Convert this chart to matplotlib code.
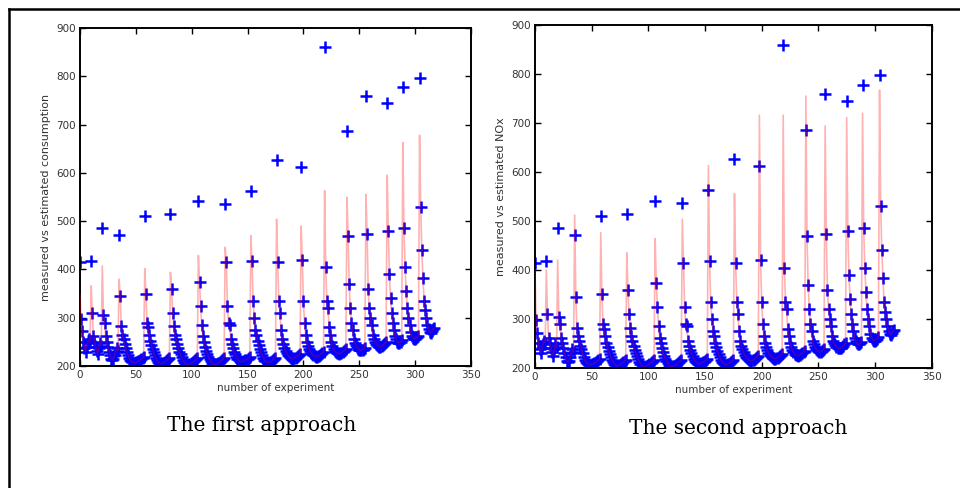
import matplotlib
matplotlib.use("Agg")
import matplotlib.pyplot as plt
from matplotlib.lines import Line2D
import numpy as np

# ---- measured values, one list per experiment group (shared by both panels) ----
g00 = [415, 297, 272, 250, 238, 230, 240, 248, 255, 252]
g01 = [418, 310, 262, 250, 240, 232, 225, 238, 248, 242]
g02 = [485, 305, 290, 262, 250, 240, 230, 222, 215, 212, 215, 222, 230, 238, 232]
g03 = [472, 345, 282, 265, 255, 245, 238, 230, 222, 216, 212, 210, 208, 207, 207,
       208, 209, 210, 210, 212, 214, 216, 218]
g04 = [510, 350, 290, 280, 265, 252, 243, 235, 228, 222, 216, 212, 208, 206, 205,
       205, 206, 207, 208, 210, 212, 214, 216]
g05 = [514, 360, 310, 282, 265, 255, 245, 237, 230, 224, 218, 213, 209, 206, 204,
       203, 203, 204, 205, 206, 208, 210, 212, 214, 216]
g06 = [541, 373, 325, 285, 262, 250, 240, 232, 225, 219, 214, 210, 206, 204, 203,
       203, 204, 205, 206, 208, 210, 212, 214, 216]
g07 = [536, 415, 325, 290, 285, 255, 245, 237, 230, 224, 219, 215, 212, 210, 209,
       209, 210, 211, 212, 213, 214, 216, 218]
g08 = [563, 418, 335, 300, 275, 265, 252, 243, 235, 228, 222, 217, 213, 210, 208,
       207, 207, 208, 209, 211, 213, 215, 217]
g09 = [627, 415, 335, 310, 275, 255, 245, 238, 232, 227, 223, 220, 218, 216, 215,
       215, 216, 217, 219, 221, 223, 225]
g10 = [613, 420, 335, 290, 265, 250, 242, 236, 231, 227, 224, 222, 220, 219, 219,
       220, 221, 223, 225, 227, 229]
g11 = [860, 405, 335, 320, 280, 265, 250, 242, 236, 232, 229, 227, 226, 225, 226,
       227, 229, 231, 233, 235]
g12 = [686, 470, 370, 320, 290, 275, 255, 248, 243, 239, 236, 234, 233, 233, 234,
       236, 238]
g13 = [760, 473, 360, 320, 300, 285, 265, 256, 250, 246, 243, 241, 240, 240, 241,
       243, 245, 248, 250]
g14 = [745, 480, 390, 340, 310, 290, 275, 262, 255, 250, 248, 248, 250, 253]
g15 = [778, 485, 405, 355, 320, 300, 285, 270, 262, 258, 256, 256, 258, 260, 263]
g16 = [797, 530, 440, 383, 335, 315, 300, 285, 276, 270, 268, 272, 276, 278]
measured_groups = [g00, g01, g02, g03, g04, g05, g06, g07, g08, g09, g10,
                   g11, g12, g13, g14, g15, g16]

# ---- estimated peak value at the start of each group ----
est_peak_consumption = [347, 366, 407, 380, 402, 394, 429, 446, 470, 504, 490,
                        563, 549, 555, 595, 663, 678]
est_peak_nox = [400, 400, 420, 512, 476, 435, 464, 504, 613, 556, 716,
                716, 755, 694, 711, 720, 767]

x_ticks = [0, 50, 100, 150, 200, 250, 300, 350]
y_ticks = [200, 300, 400, 500, 600, 700, 800, 900]
captions = ["The first approach", "The second approach"]
ylabels = ["measured vs estimated consumption", "measured vs estimated NOx"]
xlabel = "number of experiment"

measured = np.concatenate([np.array(g, dtype=float) for g in measured_groups])
x = np.arange(len(measured))


def estimated_from(peaks):
    parts = []
    for g, p in zip(measured_groups, peaks):
        arr = np.array(g, dtype=float)
        arr[0] = p
        parts.append(arr)
    return np.concatenate(parts)


est_left = estimated_from(est_peak_consumption)
est_right = estimated_from(est_peak_nox)

fig = plt.figure(figsize=(9.6, 4.88), dpi=100)
fig.patch.set_facecolor("white")

positions = [[0.0833, 0.25, 0.4073, 0.6926], [0.5573, 0.2459, 0.4132, 0.7029]]
ests = [est_left, est_right]

for pos, est, ylab in zip(positions, ests, ylabels):
    ax = fig.add_axes(pos)
    ax.plot(x, measured, linestyle="none", marker="+", color="#0000ff",
            markersize=8, markeredgewidth=1.8, zorder=2)
    ax.plot(x, est, color="red", alpha=0.3, linewidth=1.2, zorder=3)
    ax.set_xlim(0, 350)
    ax.set_ylim(200, 900)
    ax.set_xticks(x_ticks)
    ax.set_yticks(y_ticks)
    ax.tick_params(direction="in", top=True, right=True, length=4, width=1,
                   labelsize=7.5, labelcolor="#333333", pad=3)
    for s in ax.spines.values():
        s.set_linewidth(1.4)
    ax.set_xlabel(xlabel, fontsize=7.5, color="#333333", labelpad=2)
    ax.set_ylabel(ylab, fontsize=8, color="#333333", labelpad=4)

fig.text(0.273, 0.129, captions[0], ha="center", va="center",
         fontsize=14.5, family="DejaVu Serif")
fig.text(0.769, 0.121, captions[1], ha="center", va="center",
         fontsize=14.5, family="DejaVu Serif")

# document frame lines (top and left)
fig.add_artist(Line2D([8.5 / 960, 1.0], [1 - 9 / 488, 1 - 9 / 488],
                      color="black", linewidth=1.8, transform=fig.transFigure))
fig.add_artist(Line2D([9 / 960, 9 / 960], [0.0, 1 - 9 / 488],
                      color="black", linewidth=1.8, transform=fig.transFigure))

fig.savefig("out.png", dpi=100, facecolor="white")
